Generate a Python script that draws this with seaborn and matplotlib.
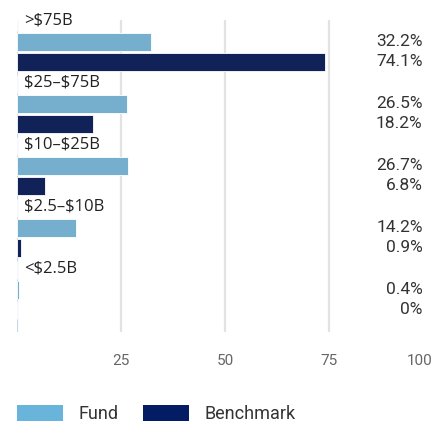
import matplotlib
matplotlib.use("Agg")
import matplotlib.pyplot as plt
import seaborn as sns
import pandas as pd
from matplotlib.patches import Patch

categories = [">$75B", "$25–$75B", "$10–$25B", "$2.5–$10B", "<$2.5B"]
fund = [32.2, 26.5, 26.7, 14.2, 0.4]
benchmark = [74.1, 18.2, 6.8, 0.9, 0.0]
fund_labels = ["32.2%", "26.5%", "26.7%", "14.2%", "0.4%"]
bench_labels = ["74.1%", "18.2%", "6.8%", "0.9%", "0%"]
x_ticks = [25, 50, 75, 100]

FUND_C = "#68b4db"
BENCH_C = "#041c63"

sns.set_theme(style="white")
plt.rcParams["font.family"] = ["Roboto", "DejaVu Sans"]

rows = []
for c, f, b in zip(categories, fund, benchmark):
    rows.append({"cat": c, "series": "spacer", "value": 0.0})
    rows.append({"cat": c, "series": "Fund", "value": f})
    rows.append({"cat": c, "series": "Benchmark", "value": b})
df = pd.DataFrame(rows)

fig = plt.figure(figsize=(4.33, 4.25), dpi=100)
ax = fig.add_axes([17 / 433, 1 - 332 / 425, 1 - 17 / 433, (332 - 20) / 425])

sns.barplot(data=df, y="cat", x="value", hue="series",
            hue_order=["spacer", "Fund", "Benchmark"],
            palette={"spacer": "white", "Fund": FUND_C, "Benchmark": BENCH_C},
            order=categories, orient="h", width=0.96, gap=0.1,
            edgecolor="white", linewidth=0.6, legend=False, ax=ax, zorder=3)

ax.set_xlim(0, 100)
ax.set_ylim(4.68, -0.355)
ax.set_xticks([0] + x_ticks)
ax.set_xticklabels([""] + [str(t) for t in x_ticks], color="#666666", fontsize=11)
lbls = ax.get_xticklabels()
lbls[-1].set_horizontalalignment("right")
ax.tick_params(axis="x", length=0, pad=16)
ax.set_yticks([])
ax.set_xlabel("")
ax.set_ylabel("")
for s in ax.spines.values():
    s.set_visible(False)
for t in [25, 50, 75]:
    ax.axvline(t, color="#e3e3e3", lw=1.6, zorder=1)
ax.axvline(0, color="#ccd6eb", lw=1.6, zorder=2)

slot = 0.96 / 3
for i, c in enumerate(categories):
    ax.text(1.6, i - slot - 0.02, c, ha="left", va="center", fontsize=12,
            color="#222222", family=["Open Sans", "DejaVu Sans"], clip_on=False,
            zorder=5, parse_math=False)
    ax.text(97.5, i, fund_labels[i], ha="right", va="center", fontsize=12.5,
            color="#333333", zorder=5, parse_math=False)
    ax.text(97.5, i + slot, bench_labels[i], ha="right", va="center", fontsize=12.5,
            color="#333333", zorder=5, parse_math=False)

handles = [Patch(facecolor=FUND_C, edgecolor="none", label="Fund"),
           Patch(facecolor=BENCH_C, edgecolor="none", label="Benchmark")]
fig.legend(handles=handles, loc="lower left", bbox_to_anchor=(17 / 433, 0.004),
           ncol=2, frameon=False, fontsize=13, handlelength=2.55, handleheight=1.0,
           handletextpad=0.85, columnspacing=1.38, labelcolor="#333333",
           borderpad=0, borderaxespad=0)

fig.savefig("out.png", dpi=100)
